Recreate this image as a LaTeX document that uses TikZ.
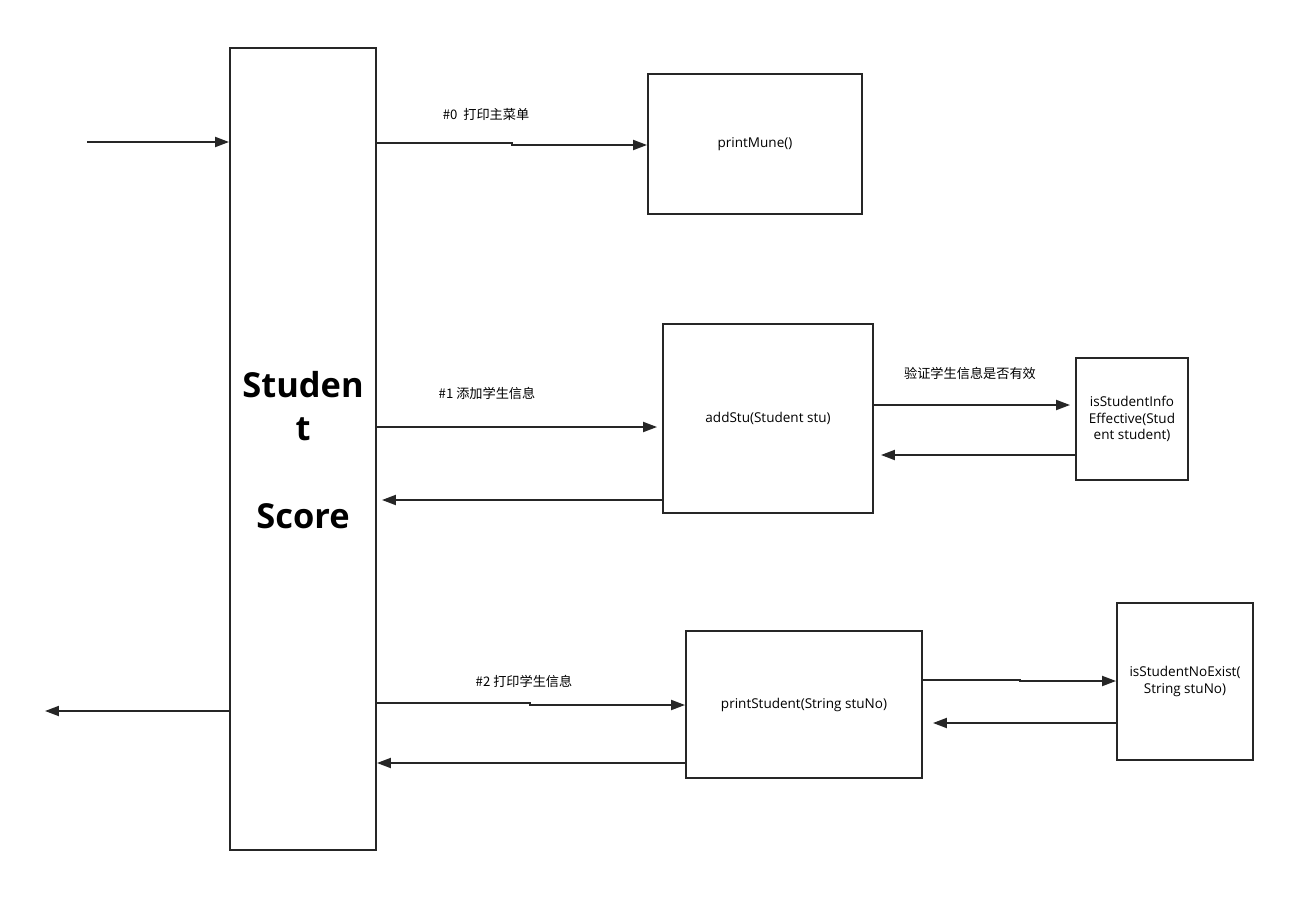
\documentclass[tikz,border=0pt]{standalone}
\usepackage{fontspec}
\setmainfont{Open Sans}
\newfontfamily\cjk{Noto Sans CJK SC}
\usetikzlibrary{arrows.meta, positioning}

\begin{document}
\begin{tikzpicture} [x=0.02cm, y=-0.02cm,
    fnbox/.style = {draw=black!85, line width=1.1pt, inner sep=0pt, align=center,
                    font=\fontsize{7.7}{9.2}\selectfont},
    arr/.style = {draw=black!85, line width=1.1pt, -{Triangle[length=0.28cm, width=0.2cm]}},
    lbl/.style = {font=\cjk\fontsize{7.5}{9.2}\selectfont}]
    \useasboundingbox[fill=white] (0,0) rectangle (1314,912);
    % main block
    \node (main) [fnbox, minimum width=2.92cm, minimum height=16.04cm] at (303,449) {};
    \node (title) [font=\bfseries\fontsize{19.6}{25}\selectfont, align=center] at (303,450)
        {Studen\\t\\[25pt]Score};
    % called functions
    \node (mune)  [fnbox, minimum width=4.28cm, minimum height=2.80cm] at (755,144) {printMune()};
    \node (add)   [fnbox, minimum width=4.20cm, minimum height=3.78cm] at (768,418.5) {addStu(Student stu)};
    \node (valid) [fnbox, minimum width=2.24cm, minimum height=2.44cm] at (1132,419)
        {isStudentInfo\\Effective(Stud\\ent student)};
    \node (prt)   [fnbox, minimum width=4.72cm, minimum height=2.94cm] at (804,704.5) {printStudent(String stuNo)};
    \node (exist) [fnbox, minimum width=2.72cm, minimum height=3.14cm] at (1185,681.5)
        {isStudentNoExist(\\String stuNo)};
    % free ends
    \coordinate (in)  at (87,142);
    \coordinate (out) at (45,711);
    % labels
    \node (l0) [lbl] at (486,114) {\#0\ \ 打印主菜单};
    \node (l1) [lbl] at (487,393) {\#1 添加学生信息};
    \node (l2) [lbl] at (524,681) {\#2 打印学生信息};
    \node (lv) [lbl] at (970,373) {验证学生信息是否有效};
    % arrows
    \draw [arr] (in) -- (main.west |- in);
    \draw [arr] (main.west |- out) -- (out);
    \draw [arr] (main.east |- 0,143) -- (512,143) -- (512,145) -- (mune.west |- 0,145);
    \draw [arr] (main.east |- 0,427) -- ([xshift=-0.1cm]add.west |- 0,427);
    \draw [arr] (add.west |- 0,500) -- ([xshift=0.1cm]main.east |- 0,500);
    \draw [arr] (add.east |- 0,405) -- ([xshift=-0.1cm]valid.west |- 0,405);
    \draw [arr] (valid.west |- 0,455) -- ([xshift=0.14cm]add.east |- 0,455);
    \draw [arr] (main.east |- 0,703) -- (530,703) -- (530,705) -- (prt.west |- 0,705);
    \draw [arr] (prt.west |- 0,763) -- (main.east |- 0,763);
    \draw [arr] (prt.east |- 0,680) -- (1020,680) -- (1020,681) -- (exist.west |- 0,681);
    \draw [arr] (exist.west |- 0,723) -- ([xshift=0.2cm]prt.east |- 0,723);
\end{tikzpicture}
\end{document}
